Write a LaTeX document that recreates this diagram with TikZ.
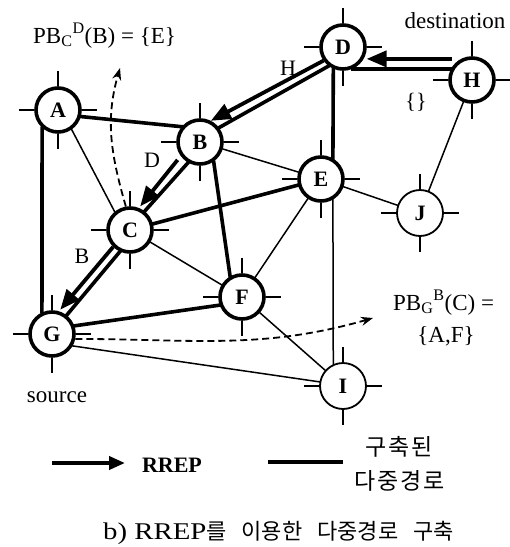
\documentclass[tikz,border=0pt]{standalone}
\usepackage{fontspec}
\setmainfont{Liberation Serif}
\newfontfamily\krfont[LetterSpace=8]{Noto Sans CJK KR}
\newfontfamily\krcap{Noto Sans CJK KR}
\usetikzlibrary{arrows.meta,calc}

\begin{document}
\begin{tikzpicture}[x=1pt,y=1pt,
  nd/.style={circle,draw,line width=3.6pt,fill=white,minimum size=44pt,inner sep=0pt,
             font=\fontsize{22}{22}\selectfont\bfseries},
  ndlite/.style={nd,line width=1.8pt,minimum size=46pt},
  tk/.style={line width=1.2pt},
  hvy/.style={line width=3.6pt,shorten <=-1pt,shorten >=-1pt},
  lite/.style={line width=1.5pt,shorten <=-0.5pt,shorten >=-0.5pt},
  rrep/.style={line width=3.8pt,-{Triangle[length=20pt,width=16pt]}},
  pbarrow/.style={line width=1.8pt,dash pattern=on 7pt off 4pt,
                  -{Stealth[length=12pt,width=9pt]}},
  lbl/.style={font=\fontsize{22}{24}\selectfont,inner sep=0pt},
  lblbig/.style={font=\fontsize{23}{25}\selectfont,inner sep=0pt},
]
\useasboundingbox (0,0) rectangle (510,-547);

% network nodes
\node[nd] (A) at (58,-110) {A};
\node[nd] (B) at (200,-142) {B};
\node[nd] (C) at (130,-230) {C};
\node[nd] (D) at (343,-47) {D};
\node[nd] (E) at (321,-179) {E};
\node[nd] (F) at (242,-297) {F};
\node[nd] (G) at (52,-334) {G};
\node[nd] (H) at (472,-80) {H};
\node[ndlite] (I) at (343,-386) {I};
\node[ndlite] (J) at (420,-213) {J};

% antenna ticks on every node
\foreach \n in {A,B,C,D,E,F,G,H,I,J}{
  \draw[tk] (\n.north) -- ++(0,15);
  \draw[tk] (\n.south) -- ++(0,-15);
  \draw[tk] (\n.east) -- ++(15,0);
  \draw[tk] (\n.west) -- ++(-15,0);
}

% links that belong to the built multipaths
\draw[hvy] (A.-16) -- (B.140);
\draw[hvy] (A.-132) -- (G.115);
\draw[hvy] (B.-55) -- (F.120);
\draw[hvy] (C) -- (E);
\draw[hvy] (D.-114) -- (E.60);
\draw[hvy] (G.20) -- (F.200);

% ordinary links
\draw[lite] (A.-55) -- (C.130);
\draw[lite] (B) -- (E);
\draw[lite] (C) -- (F);
\draw[lite] (E) -- (F);
\draw[lite] (E) -- (J);
\draw[lite] (E.-60) -- (I.114);
\draw[lite] (H) -- (J);
\draw[lite] (F) -- (I);
\draw[lite] (G.-30) -- (I.170);

% RREP travelling H -> D -> B -> C -> G, beside the path it builds
\draw[rrep,shorten >=3pt] ($(H.west |- D.-30)+(4,0)$) -- (D.-30);
\draw[hvy] (D.-68) -- ($(D.-68 -| H.west)+(4,0)$);
\draw[rrep] (D.215) -- (B.63);
\draw[hvy] (D.233) -- (B.37);
\draw[rrep,shorten <=5pt,shorten >=2pt] (B.216) -- (C.68);
\draw[hvy] (B.240) -- (C.52);
\draw[rrep,shorten >=2pt] (C.225) -- (G.73.5);
\draw[hvy] (C.245) -- (G.52);

% backup-path announcements
\coordinate (pbC) at (120,-68);
\coordinate (pbG) at (373,-318);
\draw[pbarrow] (C.100) to[out=106,in=-106] (pbC);
\draw[pbarrow] (G.-12) to[out=0,in=196] (pbG);

% labels
\node[lblbig,anchor=base west] (lpbc) at (33,-43)
  {PB\textsubscript{C}\textsuperscript{D}(B) = \{E\}};
\node[lblbig,anchor=base] (ldst) at (455,-28) {destination};
\node[lblbig,anchor=base] (lsrc) at (57,-402) {source};
\node[lbl,anchor=base] (lh) at (288,-75) {H};
\node[lbl] (lempty) at (416,-102) {\{\}};
\node[lbl,anchor=base] (ld) at (152,-167) {D};
\node[lbl,anchor=base] (lb) at (82,-263) {B};
\node[lblbig,anchor=base west] (lpbg) at (393,-310)
  {PB\textsubscript{G}\textsuperscript{B}(C) =};
\node[lblbig,anchor=base] (laf) at (446,-342) {\{A,F\}};

% legend
\coordinate (lgA1) at (52,-463);
\coordinate (lgA2) at (125,-463);
\coordinate (lgL1) at (268,-462);
\coordinate (lgL2) at (343,-462);
\draw[line width=3.8pt,-{Triangle[length=16pt,width=13pt]}] (lgA1) -- (lgA2);
\draw[line width=3.8pt] (lgL1) -- (lgL2);
\node[lbl,font=\fontsize{22}{24}\selectfont\bfseries,anchor=base] (lrrep) at (172,-472) {RREP};
\node[inner sep=0pt,font=\krfont\fontsize{23}{25}\selectfont] (lk1) at (399,-447) {구축된};
\node[inner sep=0pt,font=\krfont\fontsize{23}{25}\selectfont] (lk2) at (400,-481) {다중경로};

% caption
\node[inner sep=0pt,anchor=base west] (cap) at (103,-539)
  {\fontsize{24}{26}\selectfont \scalebox{1.2}[1]{b) RREP}{\krcap\fontsize{22}{24}\selectfont 를\hspace{15pt}이용한\hspace{15pt}다중경로\hspace{15pt}구축}};
\end{tikzpicture}
\end{document}
